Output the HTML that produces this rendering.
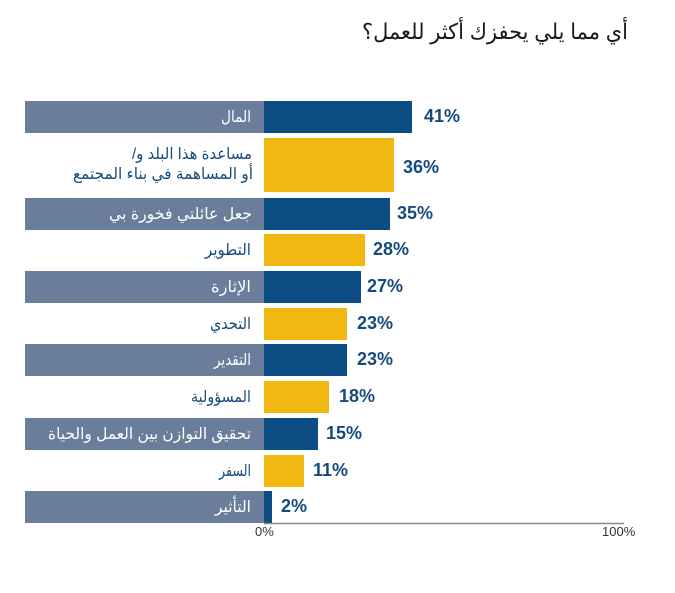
<!DOCTYPE html>
<html>
<head>
<meta charset="utf-8">
<style>
html,body{margin:0;padding:0;background:#fff;}
svg{display:block;}
.lbl{font-family:"Liberation Sans","DejaVu Sans",sans-serif;font-size:16px;}
.pct{font-family:"Liberation Sans",sans-serif;font-size:18px;font-weight:bold;fill:#174a7c;}
.ax{font-family:"Liberation Sans",sans-serif;font-size:13px;fill:#333;}
</style>
</head>
<body>
<svg width="675" height="593" viewBox="0 0 675 593" xmlns="http://www.w3.org/2000/svg">
<rect width="675" height="593" fill="#fff"/>
<text x="628" y="39" text-anchor="end" font-family="Liberation Sans, DejaVu Sans, sans-serif" font-size="22" fill="#1a1a1a" textLength="266" lengthAdjust="spacingAndGlyphs">أي مما يلي يحفزك أكثر للعمل؟</text>

<!-- Row 1 -->
<rect x="25" y="101" width="239" height="32" fill="#6a7d9b"/>
<rect x="264" y="101" width="148" height="32" fill="#0c4d84"/>
<text class="lbl" x="251" y="122" text-anchor="end" fill="#fff" textLength="30" lengthAdjust="spacingAndGlyphs">المال</text>
<text class="pct" x="424" y="122">41%</text>

<!-- Row 2 -->
<rect x="264" y="138" width="130" height="54" fill="#f0b810"/>
<text class="lbl" x="252" y="159" text-anchor="end" fill="#174a7c" textLength="120" lengthAdjust="spacingAndGlyphs">مساعدة هذا البلد و/&#x200F;</text>
<text class="lbl" x="253" y="179" text-anchor="end" fill="#174a7c" textLength="180" lengthAdjust="spacingAndGlyphs">أو المساهمة في بناء المجتمع</text>
<text class="pct" x="403" y="173">36%</text>

<!-- Row 3 -->
<rect x="25" y="198" width="239" height="32" fill="#6a7d9b"/>
<rect x="264" y="198" width="126" height="32" fill="#0c4d84"/>
<text class="lbl" x="252" y="219" text-anchor="end" fill="#fff" textLength="143" lengthAdjust="spacingAndGlyphs">جعل عائلتي فخورة بي</text>
<text class="pct" x="397" y="219">35%</text>

<!-- Row 4 -->
<rect x="264" y="234" width="101" height="32" fill="#f0b810"/>
<text class="lbl" x="251" y="255" text-anchor="end" fill="#174a7c" textLength="46" lengthAdjust="spacingAndGlyphs">التطوير</text>
<text class="pct" x="373" y="255">28%</text>

<!-- Row 5 -->
<rect x="25" y="271" width="239" height="32" fill="#6a7d9b"/>
<rect x="264" y="271" width="97" height="32" fill="#0c4d84"/>
<text class="lbl" x="251" y="292" text-anchor="end" fill="#fff" textLength="40" lengthAdjust="spacingAndGlyphs">الإثارة</text>
<text class="pct" x="367" y="292">27%</text>

<!-- Row 6 -->
<rect x="264" y="308" width="83" height="32" fill="#f0b810"/>
<text class="lbl" x="251" y="329" text-anchor="end" fill="#174a7c" textLength="41" lengthAdjust="spacingAndGlyphs">التحدي</text>
<text class="pct" x="357" y="329">23%</text>

<!-- Row 7 -->
<rect x="25" y="344" width="239" height="32" fill="#6a7d9b"/>
<rect x="264" y="344" width="83" height="32" fill="#0c4d84"/>
<text class="lbl" x="251" y="365" text-anchor="end" fill="#fff" textLength="37" lengthAdjust="spacingAndGlyphs">التقدير</text>
<text class="pct" x="357" y="365">23%</text>

<!-- Row 8 -->
<rect x="264" y="381" width="65" height="32" fill="#f0b810"/>
<text class="lbl" x="251" y="402" text-anchor="end" fill="#174a7c" textLength="60" lengthAdjust="spacingAndGlyphs">المسؤولية</text>
<text class="pct" x="339" y="402">18%</text>

<!-- Row 9 -->
<rect x="25" y="418" width="239" height="32" fill="#6a7d9b"/>
<rect x="264" y="418" width="54" height="32" fill="#0c4d84"/>
<text class="lbl" x="251" y="439" text-anchor="end" fill="#fff" textLength="203" lengthAdjust="spacingAndGlyphs">تحقيق التوازن بين العمل والحياة</text>
<text class="pct" x="326" y="439">15%</text>

<!-- Row 10 -->
<rect x="264" y="455" width="40" height="32" fill="#f0b810"/>
<text class="lbl" x="251" y="476" text-anchor="end" fill="#174a7c" textLength="32" lengthAdjust="spacingAndGlyphs">السفر</text>
<text class="pct" x="313" y="476">11%</text>

<!-- Row 11 -->
<rect x="25" y="491" width="239" height="32" fill="#6a7d9b"/>
<rect x="264" y="491" width="8" height="32" fill="#0c4d84"/>
<text class="lbl" x="251" y="512" text-anchor="end" fill="#fff" textLength="36" lengthAdjust="spacingAndGlyphs">التأثير</text>
<text class="pct" x="281" y="512">2%</text>

<!-- Axis -->
<line x1="264" y1="523.5" x2="624" y2="523.5" stroke="#8a8a8a" stroke-width="1.5"/>
<text class="ax" x="255" y="536">0%</text>
<text class="ax" x="602" y="536">100%</text>
</svg>
</body>
</html>
